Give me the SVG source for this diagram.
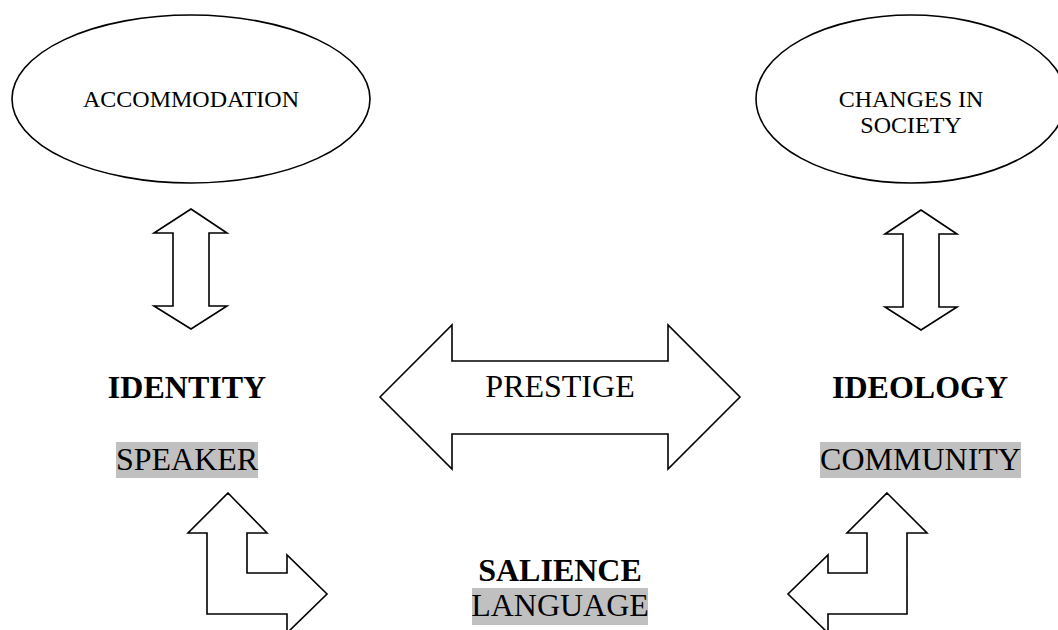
<svg xmlns="http://www.w3.org/2000/svg" width="1058" height="630" viewBox="0 0 1058 630">
<style>
.shape{fill:#fff;stroke:#000;stroke-width:1.6;stroke-linejoin:miter}
.t{font-family:"Liberation Serif","Times New Roman",serif;fill:#000;text-anchor:middle}
.s{font-size:24px}
.b{font-size:32px}
.bold{font-weight:bold}
.hl{fill:#c0c0c0}
</style>
<rect width="1058" height="630" fill="#fff"/>
<g id="accommodation">
<ellipse class="shape" cx="191" cy="99" rx="179" ry="84"/>
<text class="t s" x="191" y="107">ACCOMMODATION</text>
</g>
<g id="changes-in-society">
<ellipse class="shape" cx="911" cy="99" rx="155" ry="84"/>
<text class="t s" x="911" y="107">CHANGES IN</text>
<text class="t s" x="911" y="133">SOCIETY</text>
</g>
<g id="identity">
<text class="t b bold" x="187" y="398">IDENTITY</text>
<rect class="hl" x="116" y="442" width="142" height="36"/>
<text class="t b" x="187" y="470">SPEAKER</text>
</g>
<g id="ideology">
<text class="t b bold" x="920" y="398">IDEOLOGY</text>
<rect class="hl" x="820" y="442" width="201" height="36"/>
<text class="t b" x="920.5" y="470">COMMUNITY</text>
</g>
<g id="salience">
<text class="t b bold" x="560" y="581">SALIENCE</text>
<rect class="hl" x="472" y="588" width="176" height="37"/>
<text class="t b" x="560" y="616">LANGUAGE</text>
</g>
<g id="connectors">
<path id="arrow-acc-identity" class="shape" d="M191,209 L227,233 L209,233 L209,306 L227,306 L191,329 L154,306 L173,306 L173,233 L154,233 Z"/>
<path id="arrow-changes-ideology" class="shape" d="M921,210 L957,234 L939,234 L939,307 L957,307 L921,330 L885,307 L903,307 L903,234 L885,234 Z"/>
<g id="prestige">
<path class="shape" d="M380,397 L452,325 L452,361 L668,361 L668,325 L740,397 L668,469 L668,434 L452,434 L452,469 Z"/>
<text class="t b" x="560" y="397">PRESTIGE</text>
</g>
<path id="arrow-speaker-language" class="shape" d="M228,493 L267,533 L247,533 L247,573 L287,573 L287,555 L327,594 L287,633 L287,614 L207,614 L207,533 L188,533 Z"/>
<path id="arrow-community-language" class="shape" d="M887,493 L927,533 L907,533 L907,614 L828,614 L828,633 L788,594 L828,555 L828,573 L867,573 L867,533 L847,533 Z"/>
</g>
</svg>
